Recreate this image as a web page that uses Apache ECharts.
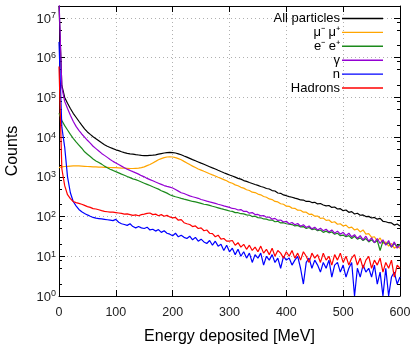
<!DOCTYPE html>
<html><head><meta charset="utf-8">
<script src="https://cdn.jsdelivr.net/npm/echarts@6/dist/echarts.min.js"></script>
<style>html,body{margin:0;padding:0;background:#fff}#c{width:413px;height:347px}</style>
</head><body><div id="c"></div>
<script>
// Bin energies (MeV)
var energy = [0,5,10,15,20,25,30,35,40,45,50,55,60,65,70,75,80,85,90,95,
100,105,110,115,120,125,130,135,140,145,150,155,160,165,170,175,180,185,190,195,
200,205,210,215,220,225,230,235,240,245,250,255,260,265,270,275,280,285,290,295,
300,305,310,315,320,325,330,335,340,345,350,355,360,365,370,375,380,385,390,395,
400,405,410,415,420,425,430,435,440,445,450,455,460,465,470,475,480,485,490,495,
500,505,510,515,520,525,530,535,540,545,550,555,560,565,570,575,580,585,590,595,600];

var allParticles = [20000000,200000,100000,71000,52500,39800,31600,25100,20000,16200,
13500,11700,10200,9120,8130,7240,6460,5890,5500,5130,
4790,4570,4270,4070,3890,3800,3720,3630,3550,3470,
3430,3430,3470,3510,3590,3720,3850,3980,4070,4120,
4070,3980,3800,3590,3350,3130,2920,2720,2540,2370,
2210,2070,1930,1800,1680,1570,1460,1360,1270,1190,
1110,1050,985,915,875,805,770,718,680,640,
608,570,548,508,494,452,440,392,384,350,
335,318,306,290,279,262,260,240,243,225,
228,208,213,196,186,190,170,174,155,158,
141,146,128,133,116,121,108,110,100,101,
92,95,86,90,76,74,70,69,61,65,58];

var muons = [1700,1780,1820,1840,1860,1880,1880,1880,1860,1840,
1820,1800,1780,1780,1760,1760,1740,1740,1720,1700,
1700,1680,1660,1660,1640,1620,1620,1640,1660,1700,
1780,1910,2040,2240,2450,2690,2880,3050,3160,3200,
3160,3050,2880,2690,2450,2240,2040,1860,1720,1580,
1480,1380,1290,1200,1120,1050,977,912,851,794,
724,690,628,598,545,520,474,452,410,402,
368,352,320,306,278,268,240,234,210,204,
183,181,163,161,145,144,129,129,114,115,
102,103,90,92,80,82,71,74,64,66,
58,61,52,54,46,49,41,46,36,37,
30,31,24,29,21,23,18,21,16,18,16];

var electrons = [39800,26300,19500,15100,11700,9330,7590,6310,5250,4270,
3720,3240,2820,2510,2290,2090,1860,1700,1550,1450,
1350,1260,1170,1100,1020,955,891,851,794,741,
692,646,603,562,525,490,447,417,389,355,
331,316,302,288,275,263,251,240,234,224,
214,204,200,191,182,174,166,158,151,145,
138,135,126,125,118,117,110,109,100,102,
94,93,87,86,81,82,74,76,69,70,
66,64,63,58,60,55,56,50,53,47,
49,44,46,40,43,39,41,36,38,33,
34,31,33,28,32,27,29,25,28,23,
26,22,25,14,24,20,22,17,21,18,20];

var gammas = [30000000,178000,79400,52500,35500,25100,18600,14800,12000,10000,
8320,7080,5890,5130,4470,3890,3470,3090,2750,2450,
2240,2040,1860,1700,1550,1450,1350,1260,1170,1070,
1000,912,851,794,741,692,646,603,575,550,
525,479,437,398,380,355,331,316,302,288,
269,257,245,234,224,214,204,195,186,178,
170,160,157,146,150,135,136,122,126,112,
113,104,106,96,97,86,90,80,82,73,
76,66,71,62,67,57,62,53,58,49,
54,46,51,44,48,41,46,38,43,36,
40,33,38,31,35,28,33,26,32,24,
29,22,28,21,26,19,25,17,23,16,19];

var neutrons = [2500000,17800,5620,1000,398,240,186,151,132,120,
110,102,95,91,89,87,85,83,81,79,
85,72,66,63,60,66,56,52,56,52,
50,54,46,48,43,47,40,44,38,36,
33,38,31,34,30,28,32,26,30,24,
27,23,21,25,19,24,18,20,14,19,
13,16,11,15,10,13,9,12,7,11,
9,12,6,10,8,11,7,9,5,10,
8,9,6,8,10,5,2,7,9,5,
8,6,4,7,5,8,3,6,7,4,
6,3,5,7,1,5,3,6,4,5,
3,6,2,4,1,5,1,3,4,2,3];

var hadrons = [600000,1600,600,355,282,240,224,214,204,191,
178,170,158,155,148,141,135,132,129,129,
126,123,120,115,117,112,107,110,105,112,
115,120,123,112,115,105,112,102,107,98,
93,95,81,84,70,66,63,56,58,50,
52,44,46,38,37,31,34,27,28,24,
24,25,19,22,17,20,15,19,14,17,
13,18,12,15,11,16,10,14,12,9,
13,10,14,9,12,8,13,10,7,12,
9,11,7,12,8,10,6,11,8,12,
7,10,6,9,11,6,9,5,8,10,
5,8,6,9,4,7,5,8,3,6,5];

var seriesNames = ['All particles', 'μ⁻ μ⁺', 'e⁻ e⁺', 'γ', 'n', 'Hadrons'];
var seriesColors = ['#000000', '#FFA500', '#1b8a1b', '#9400D3', '#0000FF', '#FF0000'];
var seriesValues = [allParticles, muons, electrons, gammas, neutrons, hadrons];

var xTicks = [0, 100, 200, 300, 400, 500, 600];
var yMajorTicks = [1, 10, 100, 1000, 10000, 100000, 1000000, 10000000];
var yMinorTicks = [2,5,8,20,50,80,200,500,800,2000,5000,8000,20000,50000,80000,
200000,500000,800000,2000000,5000000,8000000];

var FONT = '"Liberation Sans", Arial, sans-serif';
var chart = echarts.init(document.getElementById('c'), null, {renderer: 'canvas'});

var series = seriesValues.map(function (vals, k) {
  return {
    name: seriesNames[k],
    type: 'line',
    xAxisIndex: 0, yAxisIndex: 0,
    data: energy.map(function (e, i) { return [e, vals[i]]; }),
    showSymbol: false, symbol: 'none',
    color: seriesColors[k],
    lineStyle: {width: 1.2, color: seriesColors[k]},
    clip: true,
    animation: false
  };
});

var gridLine = {show: true, lineStyle: {color: '#b0b0b0', width: 1, type: [1, 3]}};

function yAxisBase(pos, custom, len, showLine, showLabel, name) {
  return {
    type: 'log', logBase: 10, min: 1, max: 20000000, position: pos,
    gridIndex: 0,
    axisLine: {show: showLine, onZero: false, lineStyle: {color: '#000', width: 1}},
    axisTick: {show: true, inside: true, length: len, customValues: custom, lineStyle: {color: '#000'}},
    axisLabel: showLabel ? {
      show: true, margin: 3, customValues: yMajorTicks, fontFamily: FONT, fontSize: 13, color: '#222',
      formatter: function (v) { return '{b|10}{s|' + Math.round(Math.log10(v)) + '}'; },
      rich: {
        b: {fontSize: 13, fontFamily: FONT, color: '#222', lineHeight: 13, padding: [2, 0, 0, 0]},
        s: {fontSize: 9, fontFamily: FONT, color: '#222', lineHeight: 9, verticalAlign: 'top'}
      }
    } : {show: false},
    splitLine: (showLabel ? gridLine : {show: false}),
    name: name || '',
    nameLocation: 'middle', nameGap: 38, nameRotate: 90,
    nameTextStyle: {fontSize: 16, fontFamily: FONT, color: '#000'}
  };
}

chart.setOption({
  animation: false,
  backgroundColor: '#fff',
  grid: {left: 59, right: 13, top: 6, bottom: 51, containLabel: false, outerBoundsMode: 'none'},
  legend: {
    orient: 'vertical', right: 30, top: 12, padding: 0,
    align: 'right', icon: 'rect', itemWidth: 41, itemHeight: 1.4, itemGap: 0.9,
    data: seriesNames,
    textStyle: {fontSize: 13, lineHeight: 13, fontFamily: FONT, color: '#000', padding: [0, -3, 0, 0]}
  },
  xAxis: [{
    type: 'value', min: 0, max: 600, interval: 100, position: 'bottom',
    axisLine: {show: true, onZero: false, lineStyle: {color: '#000', width: 1}},
    axisTick: {show: true, inside: true, length: 6, lineStyle: {color: '#000'}},
    axisLabel: {show: true, margin: 10, fontSize: 12.5, fontFamily: FONT, color: '#222',
      customValues: xTicks},
    splitLine: gridLine,
    name: 'Energy deposited [MeV]', nameLocation: 'middle', nameGap: 33,
    nameTextStyle: {fontSize: 16, fontFamily: FONT, color: '#000'}
  }, {
    type: 'value', min: 0, max: 600, interval: 100, position: 'top',
    axisLine: {show: true, onZero: false, lineStyle: {color: '#000', width: 1}},
    axisTick: {show: true, inside: true, length: 6, lineStyle: {color: '#000'}},
    axisLabel: {show: false}, splitLine: {show: false}
  }],
  yAxis: [
    yAxisBase('left', yMajorTicks, 6, true, true, 'Counts'),
    yAxisBase('left', yMinorTicks, 3, false, false),
    yAxisBase('right', yMajorTicks, 6, true, false),
    yAxisBase('right', yMinorTicks, 3, false, false)
  ],
  series: series
});
</script></body></html>
